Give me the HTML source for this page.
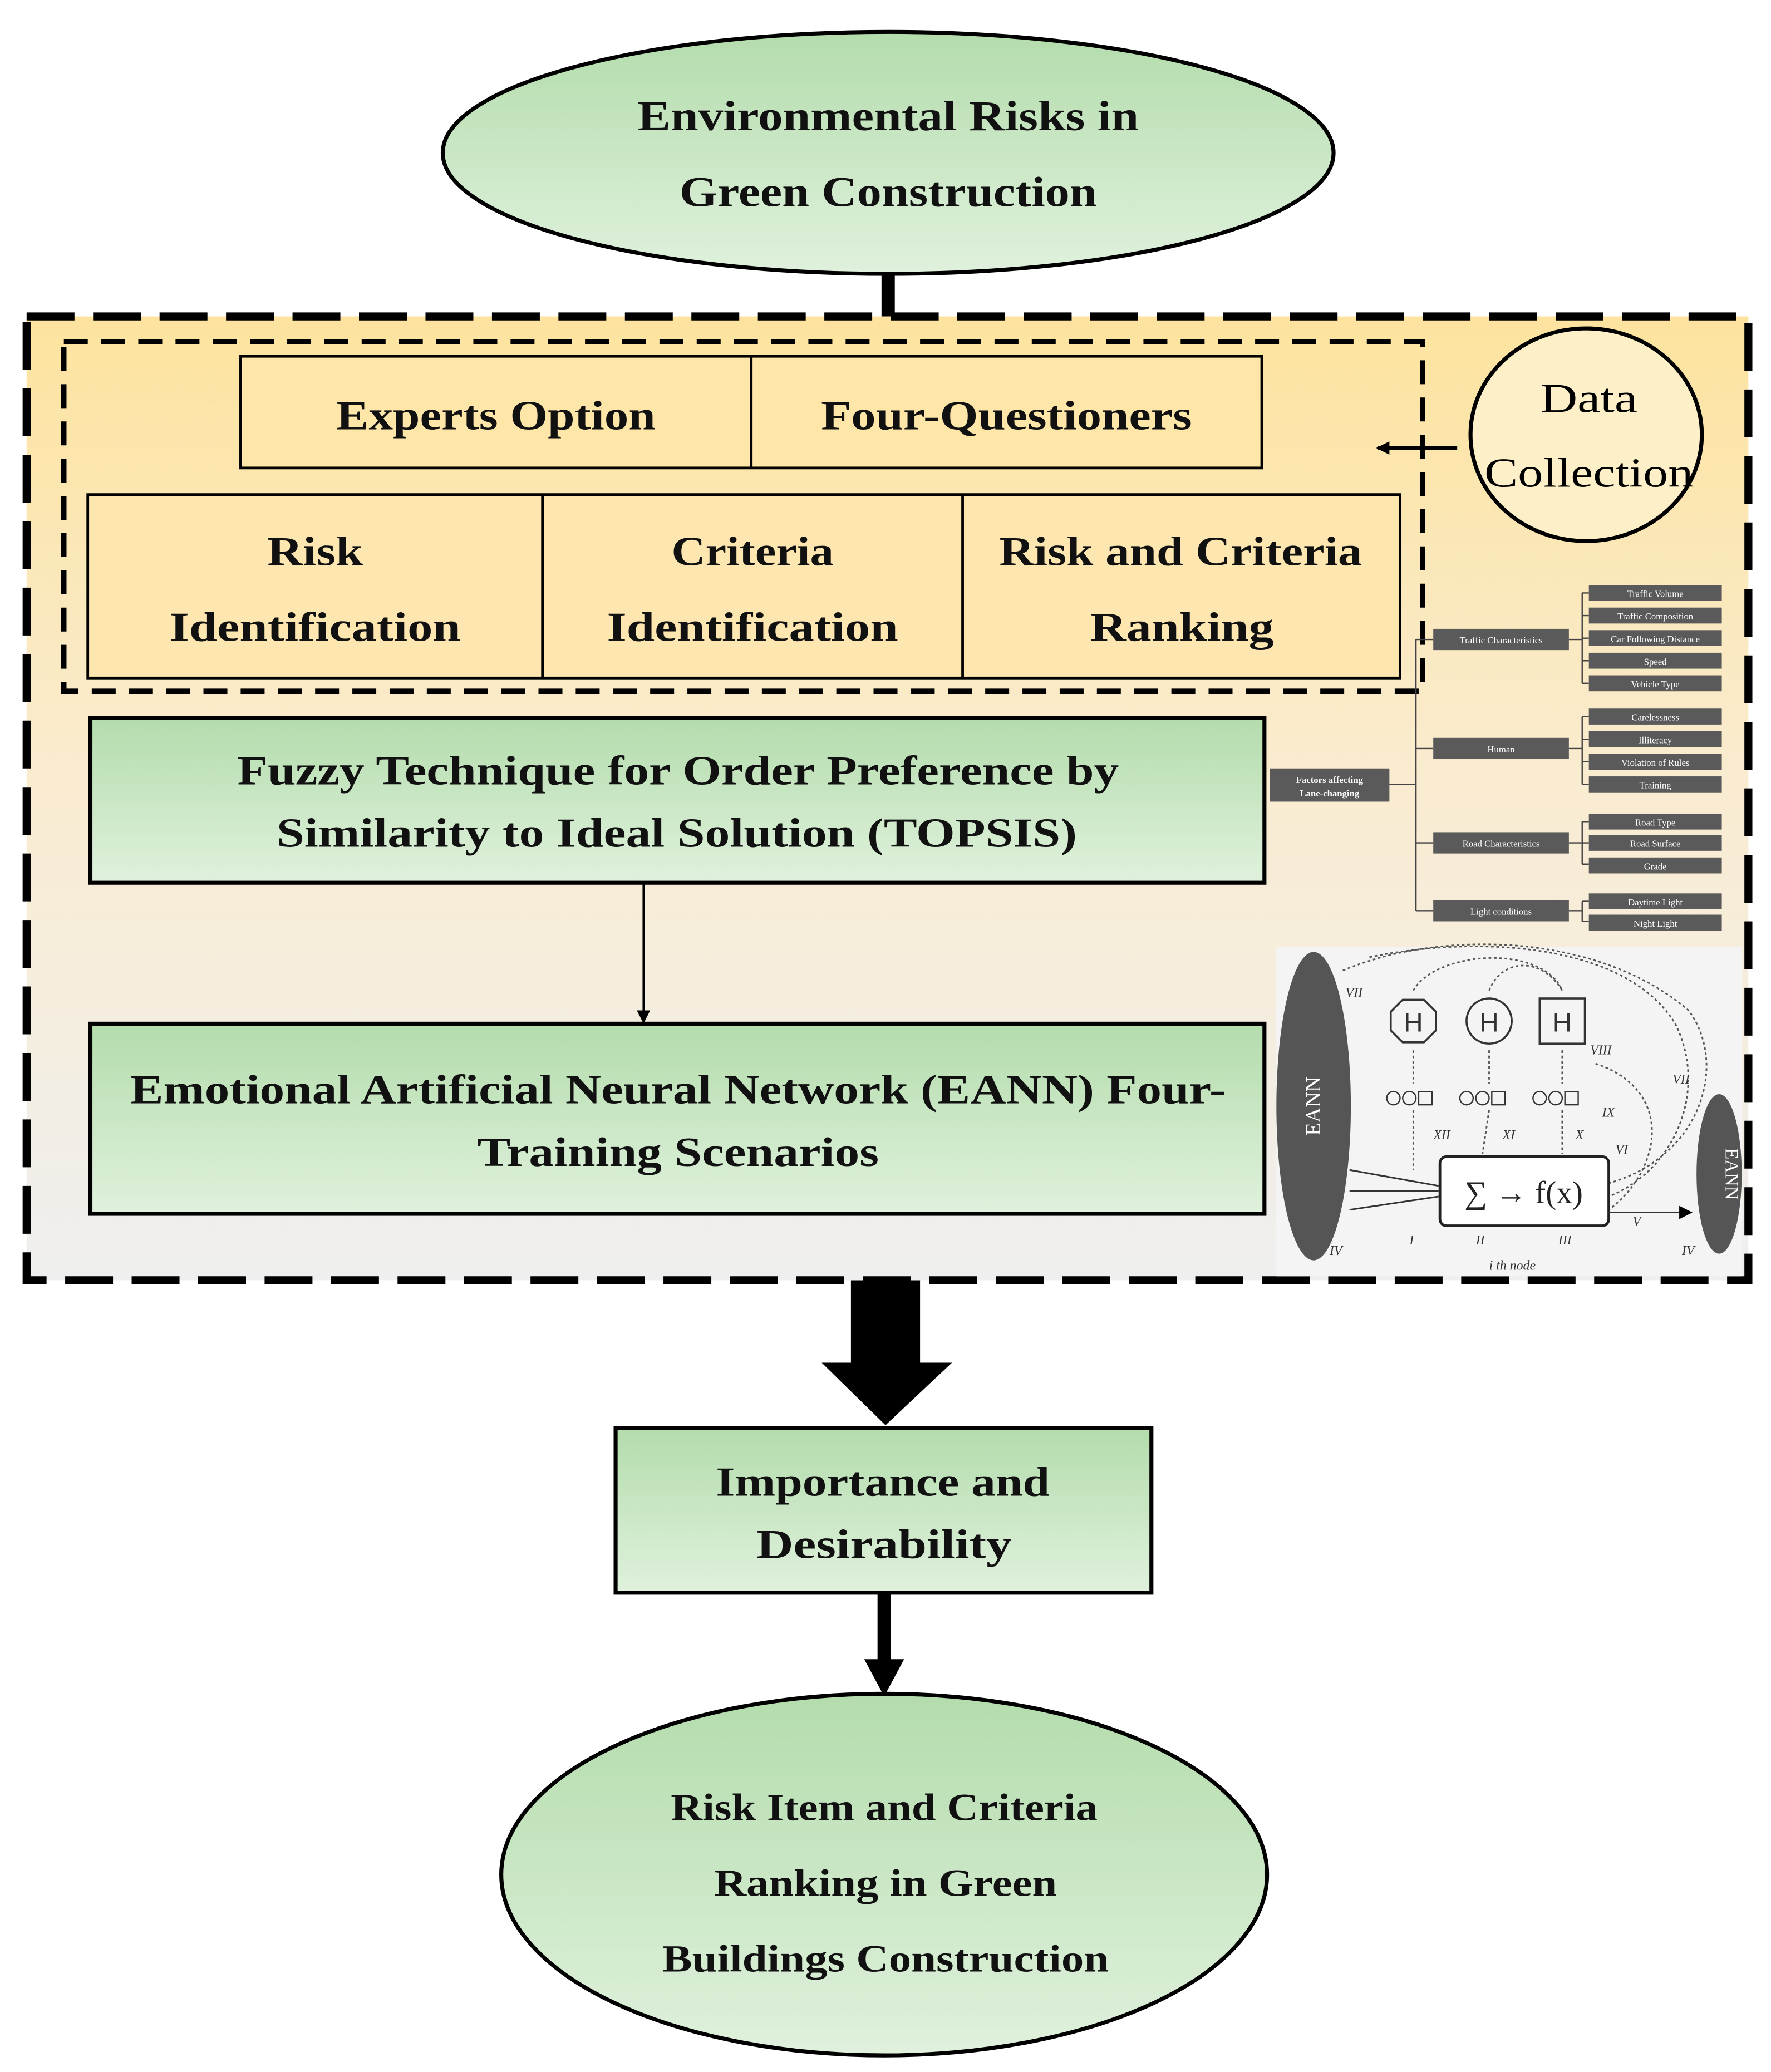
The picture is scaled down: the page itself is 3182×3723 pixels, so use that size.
<!DOCTYPE html>
<html><head><meta charset="utf-8"><style>
html,body{margin:0;padding:0;background:#fff}
svg{display:block}
.t{font-family:"Liberation Serif",serif;font-weight:bold;fill:#111}
.s{font-family:"Liberation Serif",serif;fill:#fff;font-size:7px}
</style></head><body>
<svg width="3182" height="3723" viewBox="0 0 1332 1558.5" xmlns="http://www.w3.org/2000/svg">
<defs>
<linearGradient id="g" x1="0" y1="0" x2="0" y2="1"><stop offset="0" stop-color="#b3dcac"/><stop offset="1" stop-color="#e0f1dd"/></linearGradient>
<linearGradient id="y" x1="0" y1="0" x2="0" y2="1"><stop offset="0" stop-color="#fde39e"/><stop offset="0.5" stop-color="#f9ecd2"/><stop offset="1" stop-color="#efefef"/></linearGradient>
<marker id="ah" markerWidth="10" markerHeight="10" refX="9" refY="5" orient="auto" markerUnits="userSpaceOnUse"><path d="M0,0 L10,5 L0,10 z" fill="#000"/></marker>
</defs>
<rect width="1332" height="1559" fill="#fff"/>
<ellipse cx="668" cy="115" rx="335" ry="91" fill="url(#g)" stroke="#000" stroke-width="3"/>
<g class="t" font-size="32" text-anchor="middle" lengthAdjust="spacingAndGlyphs">
<text x="668" y="98" textLength="377" lengthAdjust="spacingAndGlyphs">Environmental Risks in</text>
<text x="668" y="155" textLength="314" lengthAdjust="spacingAndGlyphs">Green Construction</text>
</g>
<rect x="663" y="206" width="10" height="32" fill="#000"/>
<rect x="20" y="238" width="1295" height="725" fill="url(#y)" stroke="#000" stroke-width="6" stroke-dasharray="36,14"/>
<rect x="48" y="257" width="1022" height="263" fill="none" stroke="#000" stroke-width="4" stroke-dasharray="18,10"/>
<rect x="181" y="268" width="768" height="84" fill="#fde6a8" stroke="#000" stroke-width="2"/>
<line x1="565" y1="268" x2="565" y2="352" stroke="#000" stroke-width="2"/>
<g class="t" font-size="31" text-anchor="middle">
<text x="373" y="323" textLength="240" lengthAdjust="spacingAndGlyphs">Experts Option</text>
<text x="757" y="323" textLength="279" lengthAdjust="spacingAndGlyphs">Four-Questioners</text>
</g>
<rect x="66" y="372" width="987" height="138" fill="#fde6b0" stroke="#000" stroke-width="2"/>
<line x1="408" y1="372" x2="408" y2="510" stroke="#000" stroke-width="2"/>
<line x1="724" y1="372" x2="724" y2="510" stroke="#000" stroke-width="2"/>
<g class="t" font-size="31" text-anchor="middle">
<text x="237" y="425" textLength="72" lengthAdjust="spacingAndGlyphs">Risk</text><text x="237" y="482" textLength="219" lengthAdjust="spacingAndGlyphs">Identification</text>
<text x="566" y="425" textLength="122" lengthAdjust="spacingAndGlyphs">Criteria</text><text x="566" y="482" textLength="219" lengthAdjust="spacingAndGlyphs">Identification</text>
<text x="888" y="425" textLength="273" lengthAdjust="spacingAndGlyphs">Risk and Criteria</text><text x="889" y="482" textLength="138" lengthAdjust="spacingAndGlyphs">Ranking</text>
</g>
<ellipse cx="1193" cy="327" rx="87" ry="80" fill="#fdf0c8" stroke="#000" stroke-width="3"/>
<text x="1195" y="310" font-size="31" text-anchor="middle" font-family="Liberation Serif,serif" textLength="73" lengthAdjust="spacingAndGlyphs">Data</text>
<text x="1195" y="366" font-size="31" text-anchor="middle" font-family="Liberation Serif,serif" textLength="157" lengthAdjust="spacingAndGlyphs">Collection</text>
<line x1="1096" y1="337" x2="1036" y2="337" stroke="#000" stroke-width="3" marker-end="url(#ah)"/>
<rect x="68" y="540" width="883" height="124" fill="url(#g)" stroke="#000" stroke-width="3"/>
<g class="t" font-size="31" text-anchor="middle">
<text x="510" y="590" textLength="663" lengthAdjust="spacingAndGlyphs">Fuzzy Technique for Order Preference by</text>
<text x="509" y="637" textLength="602" lengthAdjust="spacingAndGlyphs">Similarity to Ideal Solution (TOPSIS)</text>
</g>
<line x1="484" y1="665" x2="484" y2="769" stroke="#000" stroke-width="1.5" marker-end="url(#ah)"/>
<rect x="68" y="770" width="883" height="143" fill="url(#g)" stroke="#000" stroke-width="3"/>
<g class="t" font-size="31" text-anchor="middle">
<text x="510" y="830" textLength="824" lengthAdjust="spacingAndGlyphs">Emotional Artificial Neural Network (EANN) Four-</text>
<text x="510" y="877" textLength="302" lengthAdjust="spacingAndGlyphs">Training Scenarios</text>
</g>
<g stroke="#444" stroke-width="1" fill="none">
<path d="M1045,590 L1065,590 M1065,481 L1065,685 M1065,481 L1078,481 M1065,563 L1078,563 M1065,634 L1078,634 M1065,685 L1078,685"/>
<path d="M1180,481 L1190,481 M1190,446 L1190,514 M1180,563 L1190,563 M1190,539 L1190,590 M1180,634 L1190,634 M1190,618 L1190,650 M1180,685 L1190,685 M1190,678 L1190,693"/>
<path d="M1190,446h5M1190,463h5M1190,480h5M1190,497h5M1190,514h5M1190,539h5M1190,556h5M1190,573h5M1190,590h5M1190,618h5M1190,634h5M1190,650h5M1190,678h5M1190,693h5"/>
</g>
<g fill="#5a5a5a">
<rect x="955" y="578" width="90" height="25"/>
<rect x="1078" y="473" width="102" height="16"/><rect x="1078" y="555" width="102" height="16"/>
<rect x="1078" y="626" width="102" height="16"/><rect x="1078" y="677" width="102" height="16"/>
<rect x="1195" y="440" width="100" height="12"/><rect x="1195" y="457" width="100" height="12"/><rect x="1195" y="474" width="100" height="12"/><rect x="1195" y="491" width="100" height="12"/><rect x="1195" y="508" width="100" height="12"/>
<rect x="1195" y="533" width="100" height="12"/><rect x="1195" y="550" width="100" height="12"/><rect x="1195" y="567" width="100" height="12"/><rect x="1195" y="584" width="100" height="12"/>
<rect x="1195" y="612" width="100" height="12"/><rect x="1195" y="628" width="100" height="12"/><rect x="1195" y="645" width="100" height="12"/>
<rect x="1195" y="672" width="100" height="12"/><rect x="1195" y="688" width="100" height="12"/>
</g>
<g class="s" text-anchor="middle">
<text x="1000" y="589" font-weight="bold">Factors affecting</text><text x="1000" y="599" font-weight="bold">Lane-changing</text>
<text x="1129" y="484">Traffic Characteristics</text><text x="1129" y="566">Human</text><text x="1129" y="637">Road Characteristics</text><text x="1129" y="688">Light conditions</text>
<text x="1245" y="449">Traffic Volume</text><text x="1245" y="466">Traffic Composition</text><text x="1245" y="483">Car Following Distance</text><text x="1245" y="500">Speed</text><text x="1245" y="517">Vehicle Type</text>
<text x="1245" y="542">Carelessness</text><text x="1245" y="559">Illiteracy</text><text x="1245" y="576">Violation of Rules</text><text x="1245" y="593">Training</text>
<text x="1245" y="621">Road Type</text><text x="1245" y="637">Road Surface</text><text x="1245" y="654">Grade</text>
<text x="1245" y="681">Daytime Light</text><text x="1245" y="697">Night Light</text>
</g>
<rect x="960" y="712" width="350" height="248" fill="#f4f4f4"/>
<ellipse cx="988" cy="832" rx="28" ry="116" fill="#555"/>
<text transform="translate(993,832) rotate(-90)" fill="#fff" font-size="16" text-anchor="middle" font-family="Liberation Serif,serif">EANN</text>
<ellipse cx="1293" cy="883" rx="17" ry="60" fill="#555"/>
<text transform="translate(1298,883) rotate(90)" fill="#fff" font-size="14" text-anchor="middle" font-family="Liberation Serif,serif">EANN</text>
<g fill="none" stroke="#555" stroke-width="1.2" stroke-dasharray="2,2">
<path d="M1010,730 C1080,700 1200,700 1270,760 C1300,800 1280,870 1210,890"/>
<path d="M1030,720 C1100,705 1220,705 1260,770 C1285,820 1260,880 1210,900"/>
<path d="M1063,745 C1080,715 1160,710 1175,745"/><path d="M1120,745 C1130,720 1160,720 1175,745"/>
<path d="M1063,790 L1063,815 M1120,790 L1120,815 M1175,790 L1175,815"/>
<path d="M1063,835 L1063,880 M1120,835 L1115,868 M1175,835 L1175,868"/>
<path d="M1200,800 C1260,820 1250,880 1210,910"/>
</g>
<polygon points="1055,752 1071,752 1080,761 1080,775 1071,784 1055,784 1046,775 1046,761" fill="none" stroke="#333" stroke-width="1.5"/>
<text x="1063" y="776" font-size="20" text-anchor="middle" font-family="Liberation Sans,sans-serif" fill="#333">H</text>
<circle cx="1120" cy="768" r="17" fill="none" stroke="#333" stroke-width="1.5"/>
<text x="1120" y="776" font-size="20" text-anchor="middle" font-family="Liberation Sans,sans-serif" fill="#333">H</text>
<rect x="1158" y="751" width="34" height="34" fill="none" stroke="#333" stroke-width="1.5"/>
<text x="1175" y="776" font-size="20" text-anchor="middle" font-family="Liberation Sans,sans-serif" fill="#333">H</text>
<g fill="none" stroke="#333" stroke-width="1">
<circle cx="1048" cy="826" r="5"/><circle cx="1060" cy="826" r="5"/><rect x="1067" y="821" width="10" height="10"/>
<circle cx="1103" cy="826" r="5"/><circle cx="1115" cy="826" r="5"/><rect x="1122" y="821" width="10" height="10"/>
<circle cx="1158" cy="826" r="5"/><circle cx="1170" cy="826" r="5"/><rect x="1177" y="821" width="10" height="10"/>
</g>
<rect x="1083" y="870" width="127" height="52" rx="5" fill="#fff" stroke="#222" stroke-width="2"/>
<text x="1146" y="905" font-size="24" text-anchor="middle" font-family="Liberation Serif,serif" fill="#222">∑ → f(x)</text>
<g stroke="#333" stroke-width="1.2">
<line x1="1015" y1="880" x2="1082" y2="892"/><line x1="1015" y1="896" x2="1082" y2="896"/><line x1="1015" y1="910" x2="1082" y2="900"/>
<line x1="1210" y1="912" x2="1272" y2="912" marker-end="url(#ah)"/>
</g>
<g font-size="10" font-style="italic" fill="#333" font-family="Liberation Serif,serif">
<text x="1012" y="750">VII</text><text x="1196" y="793">VIII</text><text x="1258" y="815">VII</text><text x="1205" y="840">IX</text>
<text x="1078" y="857">XII</text><text x="1130" y="857">XI</text><text x="1185" y="857">X</text><text x="1215" y="868">VI</text>
<text x="1000" y="944">IV</text><text x="1060" y="936">I</text><text x="1110" y="936">II</text><text x="1172" y="936">III</text><text x="1228" y="922">V</text><text x="1265" y="944">IV</text>
<text x="1120" y="955">i th node</text>
</g>
<polygon points="640,963 692,963 692,1025 716,1025 666,1072 618,1025 640,1025" fill="#000"/>
<rect x="463" y="1074" width="403" height="124" fill="url(#g)" stroke="#000" stroke-width="3"/>
<g class="t" font-size="31" text-anchor="middle">
<text x="664" y="1125" textLength="251" lengthAdjust="spacingAndGlyphs">Importance and</text>
<text x="665" y="1172" textLength="192" lengthAdjust="spacingAndGlyphs">Desirability</text>
</g>
<rect x="660" y="1199" width="10" height="50" fill="#000"/>
<polygon points="650,1248 680,1248 665,1276" fill="#000"/>
<ellipse cx="665" cy="1410" rx="288" ry="136" fill="url(#g)" stroke="#000" stroke-width="3"/>
<g class="t" font-size="29" text-anchor="middle">
<text x="665" y="1369" textLength="321" lengthAdjust="spacingAndGlyphs">Risk Item and Criteria</text>
<text x="666" y="1426" textLength="258" lengthAdjust="spacingAndGlyphs">Ranking in Green</text>
<text x="666" y="1483" textLength="336" lengthAdjust="spacingAndGlyphs">Buildings Construction</text>
</g>
</svg>
</body></html>
